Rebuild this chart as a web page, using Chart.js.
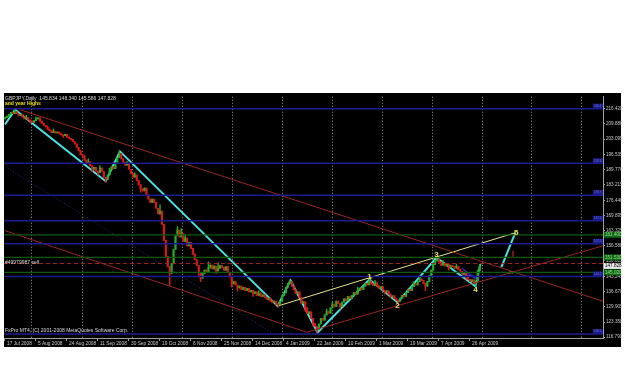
<!DOCTYPE html>
<html>
<head>
<meta charset="utf-8">
<script src="https://cdn.jsdelivr.net/npm/chart.js@4.4.0/dist/chart.umd.min.js"></script>
<style>
  html, body { margin: 0; padding: 0; background: #fff; }
  #box { position: absolute; left: 4px; top: 93px; width: 617px; height: 254px; background: #000; }
  #chart { position: absolute; left: 4px; top: 93px; width: 621px; height: 254px; }
</style>
</head>
<body>
<div id="box"></div>
<canvas id="chart" width="621" height="254"></canvas>
<script>
// ===== DATA =====
const dateLabels = ['17 Jul 2008', '5 Aug 2008', '24 Aug 2008', '11 Sep 2008', '30 Sep 2008', '19 Oct 2008',
    '6 Nov 2008', '25 Nov 2008', '14 Dec 2008', '4 Jan 2009', '22 Jan 2009', '10 Feb 2009',
    '1 Mar 2009', '19 Mar 2009', '7 Apr 2009', '26 Apr 2009'];
const dateBars = [0, 16, 32, 48, 64, 80, 96, 112, 128, 144, 160, 176, 192, 208, 224, 240];
const priceTicks = [216.420, 209.880, 203.095, 196.535, 189.770, 183.215, 176.440, 169.895,
    163.325, 156.580, 150.015, 143.245, 136.670, 129.905, 123.350, 116.790];

// daily closes GBPJPY
const firstOpen = 212.0;
const closes = [
    212.5, 213.2, 214.0, 214.8, 214.2, 215.0,
    214.2, 213.5, 213.9, 212.8, 212.0, 212.6, 211.5, 211.0, 210.4, 211.2, 212.0, 212.4, 211.0, 210.0, 209.2, 208.5,
    207.5, 206.8, 206.0, 206.5, 205.8, 206.2, 205.4, 205.0, 204.6, 205.2, 204.0, 203.5, 203.0, 202.0, 201.0,
    199.5, 198.0, 196.5, 195.8, 194.0, 192.5, 193.2, 191.5, 190.0, 190.8, 189.2, 188.5, 190.5, 189.0, 186.5, 185.5,
    187.5, 189.8, 191.0, 190.2, 192.5, 195.0, 196.8,
    194.5, 193.0, 191.8, 192.5, 190.0, 188.2, 186.5, 187.5, 185.0, 183.2, 181.5, 180.5, 181.8, 179.0, 177.0, 175.5,
    177.0, 175.5, 173.0, 170.5, 171.8, 166.0, 159.0, 152.0, 147.5, 144.5, 149.0, 155.0, 161.0,
    163.5, 160.5, 162.0, 158.5, 160.0, 156.5, 158.0, 155.5, 153.0, 150.5, 148.0, 145.0, 142.5,
    144.5, 146.0, 145.2, 147.0, 148.2, 146.5, 147.8, 145.6, 146.8, 148.0, 147.2, 146.0, 147.5, 145.0, 143.0, 140.0,
    141.0, 139.5, 138.2, 139.0, 137.5, 138.5, 137.0, 138.0, 136.5, 137.2, 135.8, 136.5, 135.0, 136.0, 134.5, 135.2,
    134.0, 133.2, 133.8, 132.5, 131.8, 132.5, 131.0, 130.8,
    132.5, 134.8, 136.0, 138.5, 140.2, 141.0,
    139.0, 137.5, 135.8, 136.5, 134.0, 131.5, 132.2, 129.5, 127.0, 127.8, 125.0, 122.8, 121.5, 120.0,
    122.5, 125.0, 124.2, 126.5, 128.0, 127.2, 129.5, 131.0, 130.2, 132.5, 131.5, 130.0, 132.0, 133.5, 132.8, 134.5,
    133.6, 135.0, 136.2, 135.5, 137.0, 138.2, 137.5, 139.0, 140.2, 139.5, 141.2,
    140.0, 139.2, 140.5, 139.0, 138.0, 138.8, 137.2, 136.5, 137.0, 135.5, 134.2, 134.8, 133.5, 132.8, 132.5,
    133.8, 135.0, 134.5, 136.2, 137.5, 137.0, 138.8, 140.0, 139.5, 141.0, 142.2, 141.5, 140.2, 139.0, 141.0, 143.5,
    146.0, 148.5, 150.0, 150.8,
    149.5, 148.2, 149.0, 147.8, 148.5, 147.0, 148.0, 147.5, 146.8, 147.6, 146.2, 145.5, 144.0, 144.8, 143.0, 142.0,
    141.0, 141.8, 140.5, 141.2, 145.834, 147.828
];
// visible wick tips
const highBars = [5, 11, 16, 25, 43, 49, 54, 59, 63, 67, 80, 89, 91, 93, 105, 110, 131, 147, 166, 169, 182,
    188, 191, 211, 214, 223, 226, 233, 245];
const highVals = [215.9, 213.5, 212.8, 207.5, 194.5, 191.5, 190.5, 197.8, 193.5, 188.5, 174.5, 165.0, 164.0,
    161.5, 149.5, 149.2, 137.0, 141.8, 129.0, 132.0, 138.5, 142.0, 141.5, 141.0, 143.0, 151.4, 150.2, 148.6, 148.34];
const lowBars = [13, 30, 45, 48, 52, 70, 85, 100, 101, 109, 117, 120, 128, 141, 155, 159, 161, 173, 196, 203,
    217, 229, 238, 243, 245];
const lowVals = [210.2, 203.8, 188.8, 187.5, 184.6, 180.0, 139.3, 143.0, 141.0, 144.5, 138.5, 136.8, 134.5,
    129.9, 128.0, 121.5, 118.7, 129.0, 135.5, 131.6, 137.0, 146.0, 142.0, 138.9, 145.586];

// wave zigzag (bar, price)
const zigBars = [0, 5.2, 52, 59.3, 140.7, 147.4, 161.3, 188.1, 202.6, 222.7, 242.8, 245.4];
const zigVals = [209.5, 216.0, 184.8, 197.8, 130.3, 141.5, 118.8, 141.9, 131.9, 151.5, 138.9, 148.7];
const projBars = [256.2, 263.4];
const projVals = [147.3, 162.3];
const waveNames = ['1', '2', '3', '4', '5'];
const waveBars = [188.1, 202.6, 222.7, 242.8, 263.4];
const waveVals = [141.9, 131.9, 151.5, 138.9, 162.3];

// trend lines (bar, price)
const upperBars = [7.7, 308.6];
const upperVals = [216.0, 132.4];
const lowerBars = [0, 155.7];
const lowerVals = [163.2, 118.9];
const riseBars = [155.7, 308.6];
const riseVals = [118.9, 156.6];
const yellowBars = [140.7, 263.4];
const yellowVals = [130.3, 162.3];
const dotBars = [1.5, 138.1];
const dotVals = [190.4, 118.5];
// small wedge near wave 4, sell arrow and crossing mark
const wedgeTopBars = [235.9, 243.6];
const wedgeTopVals = [146.7, 141.8];
const wedgeLowBars = [235.9, 243.6];
const wedgeLowVals = [144.2, 143.0];
const arrowBars = [262.2, 262.2];
const arrowVals = [154.6, 151.8];
const crossBars = [261.2];
const crossVals = [145.0];

// horizontal levels
const blueLevels = [216.42, 192.6, 178.7, 167.5, 157.5, 143.2, 118.1];
const greenLevels = [161.40, 151.53, 145.02];
const sellLevel = 148.9;
const bidPrice = 147.828;
const gridBars = [13.9, 39.8, 65.6, 91.4, 117.2, 143.0, 168.8, 194.6, 220.4, 246.2, 272.0, 297.8];

// ===== BUILD =====
const X_MIN = -0.516, X_MAX = 308.65;
const opens = closes.map((c, i) => i === 0 ? firstOpen : closes[i - 1]);
const bodies = closes.map((c, i) => ({ x: i, y: [opens[i], c] }));
const wicks = closes.map((c, i) => {
    let hi = Math.max(opens[i], c), lo = Math.min(opens[i], c);
    const h = highBars.indexOf(i), l = lowBars.indexOf(i);
    if (h >= 0) hi = Math.max(hi, highVals[h]);
    if (l >= 0) lo = Math.min(lo, lowVals[l]);
    return { x: i, y: [lo, hi] };
});
const candleColors = closes.map((c, i) => c >= opens[i] ? '#22b022' : '#e01818');

function pts(bars, vals) { return bars.map((b, i) => ({ x: b, y: vals[i] })); }
function lineSet(data, color, width, dash) {
    return { type: 'line', data: data, borderColor: color, borderWidth: width, borderDash: dash || [],
        pointRadius: 0, tension: 0, fill: false };
}

const datasets = [];
blueLevels.forEach(v => datasets.push(lineSet(pts([X_MIN, X_MAX], [v, v]), '#1c1c90', 1.5)));
greenLevels.forEach(v => datasets.push(lineSet(pts([X_MIN, X_MAX], [v, v]), '#0e5a0e', 1.2)));
datasets.push(lineSet(pts([X_MIN, X_MAX], [sellLevel, sellLevel]), '#a82020', 1, [4, 3]));
datasets.push(lineSet(pts(dotBars, dotVals), '#26267c', 1, [1, 2]));
datasets.push(lineSet(pts(upperBars, upperVals), '#9a2424', 1));
datasets.push(lineSet(pts(lowerBars, lowerVals), '#9a2424', 1));
datasets.push(lineSet(pts(riseBars, riseVals), '#9a2424', 1));
datasets.push({ type: 'bar', data: wicks, backgroundColor: candleColors, barThickness: 0.8, grouped: false, minBarLength: 1 });
datasets.push({ type: 'bar', data: bodies, backgroundColor: candleColors, barThickness: 1.4, grouped: false, minBarLength: 1 });
datasets.push(lineSet(pts(wedgeTopBars, wedgeTopVals), '#3434d0', 1.5));
datasets.push(lineSet(pts(wedgeLowBars, wedgeLowVals), '#3434d0', 1.5));
datasets.push(lineSet(pts(yellowBars, yellowVals), '#e4e48a', 1));
datasets.push(lineSet(pts(zigBars, zigVals), '#44e4e4', 2));
datasets.push(lineSet(pts(projBars, projVals), '#44e4e4', 2));
datasets.push(lineSet(pts(arrowBars, arrowVals), '#c82020', 1.2));
datasets.push({ type: 'line', data: pts(crossBars, crossVals), showLine: false, pointStyle: 'crossRot',
    pointRadius: 2, borderColor: '#f09030', borderWidth: 1 });

const FONT = 'Liberation Sans';

// texts and price boxes
const overlay = {
    id: 'overlay',
    afterDraw(chart) {
        const ctx = chart.ctx, xs = chart.scales.x, ys = chart.scales.y;
        ctx.save();
        ctx.font = '5px "' + FONT + '"';
        ctx.textBaseline = 'top';
        ctx.fillStyle = '#d8d8d8';
        ctx.fillText('GBPJPY,Daily  145.834 148.340 145.586 147.828', 1, 3);
        ctx.fillStyle = '#e8e000';
        ctx.font = 'bold 5px "' + FONT + '"';
        ctx.fillText('and year Highs', 1, 8);
        ctx.font = '5px "' + FONT + '"';
        ctx.fillStyle = '#d8d8d8';
        ctx.textBaseline = 'middle';
        ctx.fillText('#49979987 sell', 1, ys.getPixelForValue(sellLevel) - 1);
        ctx.fillText('FxPro MT4, (C) 2001-2008 MetaQuotes Software Corp.', 1, 238);

        // labels of the horizontal lines at their right end
        blueLevels.forEach(v => {
            const y = ys.getPixelForValue(v);
            ctx.fillStyle = '#1c1c90';
            ctx.fillRect(589, y - 5, 10, 5);
            ctx.fillStyle = '#7070c0';
            ctx.font = '3px "' + FONT + '"';
            ctx.fillText(v.toFixed(1), 590, y - 2.5);
        });

        // price boxes on the axis
        ctx.font = '4.6px "' + FONT + '"';
        greenLevels.forEach(v => {
            const y = ys.getPixelForValue(v);
            ctx.fillStyle = '#0e6a0e';
            ctx.fillRect(600, y - 3, 17, 6);
            ctx.fillStyle = '#9ad89a';
            ctx.fillText(v.toFixed(3), 601, y);
        });
        const by = ys.getPixelForValue(bidPrice);
        ctx.fillStyle = '#e8e8e8';
        ctx.fillRect(600, by - 3, 17, 6);
        ctx.fillStyle = '#000';
        ctx.fillText(bidPrice.toFixed(3), 601, by);

        // wave numbers
        ctx.fillStyle = '#f0e040';
        ctx.font = 'bold 8px "' + FONT + '"';
        ctx.textAlign = 'center';
        const dy = [-3, 3, -3, 3, 0];
        waveNames.forEach((n, i) => {
            ctx.fillText(n, xs.getPixelForValue(waveBars[i]) + (i === 4 ? 1 : 0), ys.getPixelForValue(waveVals[i]) + dy[i]);
        });
        ctx.restore();
    }
};

new Chart(document.getElementById('chart'), {
    type: 'bar',
    data: { datasets: datasets },
    options: {
        responsive: false,
        animation: false,
        devicePixelRatio: 1,
        layout: { autoPadding: false, padding: { top: 2, left: 0, right: 0, bottom: 0 } },
        plugins: { legend: { display: false }, tooltip: { enabled: false } },
        scales: {
            x: {
                type: 'linear', min: X_MIN, max: X_MAX, position: 'bottom', offset: false,
                afterBuildTicks: s => { s.ticks = dateBars.map(v => ({ value: v })); },
                afterFit: s => { s.height = 9; },
                ticks: {
                    callback: (v, i) => dateLabels[i], align: 'start', labelOffset: 2, padding: 0,
                    color: '#c8c8c8', font: { family: FONT, size: 4.8 }, maxRotation: 0, autoSkip: false
                },
                grid: { drawOnChartArea: false, drawTicks: true, tickLength: 3, color: '#a0a0a0', offset: false },
                border: { color: '#a0a0a0' }
            },
            xg: {
                type: 'linear', min: X_MIN, max: X_MAX, position: 'bottom', offset: false,
                afterBuildTicks: s => { s.ticks = gridBars.map(v => ({ value: v })); },
                afterFit: s => { s.height = 0; },
                ticks: { display: false },
                grid: { drawOnChartArea: true, drawTicks: false, color: '#9a9a9a', offset: false },
                border: { display: false, dash: [1, 2] }
            },
            y: {
                type: 'linear', min: 116.38, max: 221.62, position: 'right',
                afterBuildTicks: s => { s.ticks = priceTicks.map(v => ({ value: v })); },
                afterFit: s => { s.width = 22; },
                ticks: {
                    callback: v => v.toFixed(3), padding: 1, color: '#c8c8c8',
                    font: { family: FONT, size: 4.6 }, autoSkip: false
                },
                grid: { drawOnChartArea: false, drawTicks: true, tickLength: 2, color: '#a0a0a0' },
                border: { color: '#a0a0a0' }
            }
        }
    },
    plugins: [overlay]
});
</script>
</body>
</html>
